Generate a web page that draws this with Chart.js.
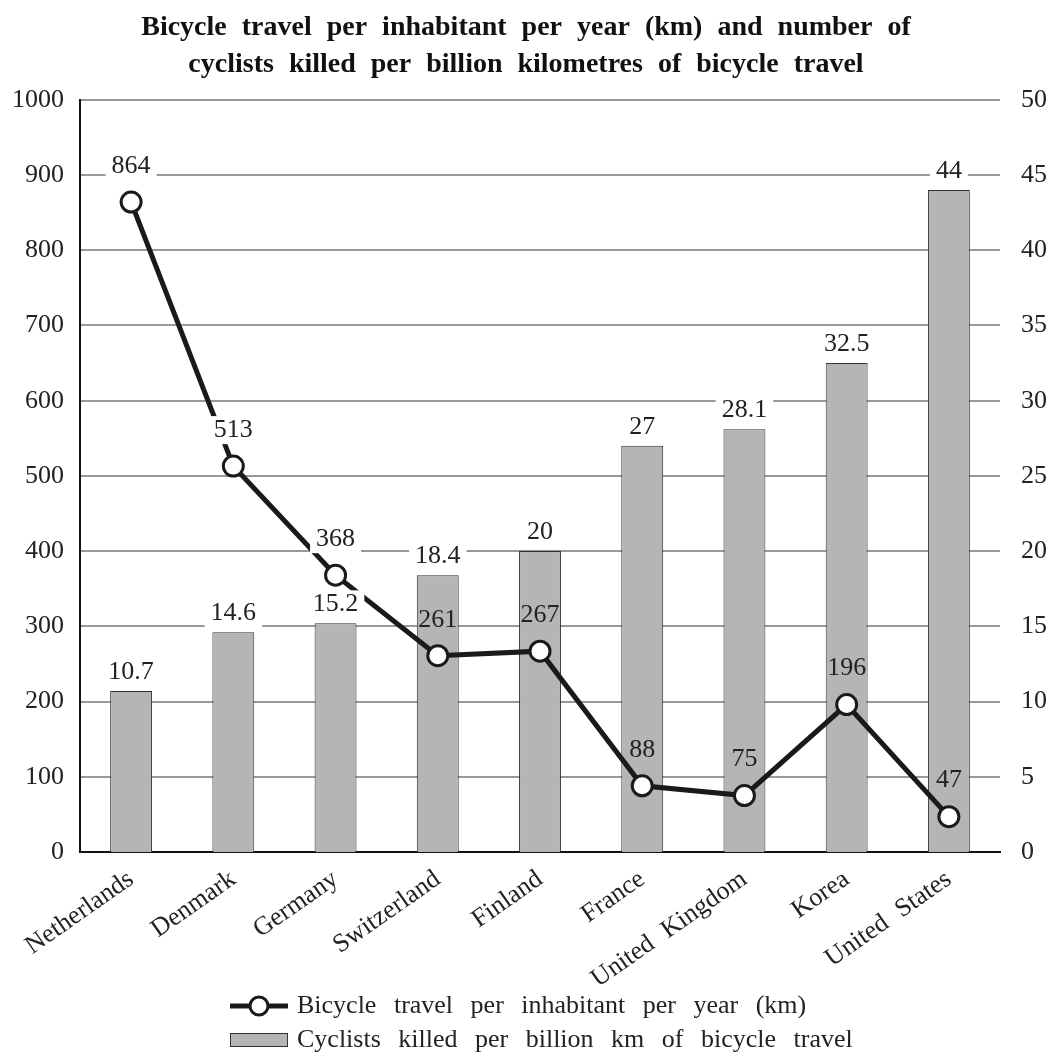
<!DOCTYPE html>
<html>
<head>
<meta charset="utf-8">
<script src="https://cdn.jsdelivr.net/npm/chart.js@4/dist/chart.umd.min.js"></script>
<style>
  body { margin: 0; background: #fff; }
  #wrap { width: 1052px; height: 1056px; }
</style>
</head>
<body>
<div id="wrap"><canvas id="chart"></canvas></div>
<script>
const countries = ["Netherlands", "Denmark", "Germany", "Switzerland", "Finland", "France", "United Kingdom", "Korea", "United States"];
const travelKm = [864, 513, 368, 261, 267, 88, 75, 196, 47];
const killedPerBillionKm = [10.7, 14.6, 15.2, 18.4, 20, 27, 28.1, 32.5, 44];

const titleLines = [
    "Bicycle travel per inhabitant per year (km) and number of",
    "cyclists killed per billion kilometres of bicycle travel"
];
const lineLabel = "Bicycle travel per inhabitant per year (km)";
const barLabel = "Cyclists killed per billion km of bicycle travel";

const serif = "'Liberation Serif', 'DejaVu Serif', serif";
Chart.defaults.font.family = serif;
Chart.defaults.color = "#222";

// the original type has wide word gaps
const wideWords = {
    id: "wideWords",
    beforeDraw(chart) {
        chart.ctx.wordSpacing = "8px";
    }
};

// value labels above points and bars
const valueLabels = {
    id: "valueLabels",
    afterDatasetsDraw(chart) {
        const ctx = chart.ctx;
        const lineMeta = chart.getDatasetMeta(0);
        const barMeta = chart.getDatasetMeta(1);
        ctx.save();
        ctx.font = "26px " + serif;
        ctx.textAlign = "center";
        ctx.textBaseline = "middle";

        const drawLabel = (text, x, y, i) => {
            const bar = barMeta.data[i];
            const onBar = Math.abs(x - bar.x) < bar.width / 2 && y > bar.y;
            if (!onBar) {
                const w = ctx.measureText(text).width + 12;
                ctx.fillStyle = "#fff";
                ctx.fillRect(x - w / 2, y - 14, w, 28);
            }
            ctx.fillStyle = "#222";
            ctx.fillText(text, x, y);
        };

        barMeta.data.forEach((bar, i) => {
            drawLabel(String(killedPerBillionKm[i]), bar.x, bar.y - 19, i);
        });
        lineMeta.data.forEach((pt, i) => {
            drawLabel(String(travelKm[i]), pt.x, pt.y - 36, i);
        });
        ctx.restore();
    }
};

// two-row legend under the axis labels
const bottomLegend = {
    id: "bottomLegend",
    afterDraw(chart) {
        const ctx = chart.ctx;
        const x0 = 230;
        const y1 = 1006;
        const y2 = 1040;
        ctx.save();
        ctx.strokeStyle = "#1a1a1a";
        ctx.lineWidth = 5;
        ctx.beginPath();
        ctx.moveTo(x0, y1);
        ctx.lineTo(x0 + 58, y1);
        ctx.stroke();
        ctx.beginPath();
        ctx.arc(x0 + 29, y1, 9, 0, Math.PI * 2);
        ctx.fillStyle = "#fff";
        ctx.fill();
        ctx.lineWidth = 3;
        ctx.stroke();

        ctx.fillStyle = "#b5b5b5";
        ctx.fillRect(x0, y2 - 7, 58, 14);
        ctx.strokeStyle = "#333";
        ctx.lineWidth = 1;
        ctx.strokeRect(x0 + 0.5, y2 - 6.5, 57, 13);

        ctx.fillStyle = "#222";
        ctx.font = "26px " + serif;
        ctx.wordSpacing = "11px";
        ctx.textAlign = "left";
        ctx.textBaseline = "middle";
        ctx.fillText(lineLabel, x0 + 67, y1);
        ctx.fillText(barLabel, x0 + 67, y2);
        ctx.restore();
    }
};

new Chart(document.getElementById("chart"), {
    type: "bar",
    data: {
        labels: countries,
        datasets: [{
            type: "line",
            label: lineLabel,
            data: travelKm,
            yAxisID: "y",
            borderColor: "#1a1a1a",
            borderWidth: 5,
            tension: 0,
            pointRadius: 10,
            pointBorderWidth: 3,
            pointBackgroundColor: "#fff",
            pointBorderColor: "#1a1a1a",
            order: 0
        }, {
            type: "bar",
            label: barLabel,
            data: killedPerBillionKm,
            yAxisID: "y1",
            backgroundColor: "#b5b5b5",
            borderColor: "#333",
            borderWidth: 1,
            barPercentage: 0.41,
            categoryPercentage: 1,
            order: 1
        }]
    },
    options: {
        responsive: true,
        maintainAspectRatio: false,
        animation: false,
        layout: { padding: { top: 0, left: 0, right: 0, bottom: 70 } },
        plugins: {
            legend: { display: false },
            tooltip: { enabled: false },
            title: {
                display: true,
                text: titleLines,
                color: "#111",
                font: { size: 28, weight: "bold", lineHeight: 1.3 },
                padding: { top: 10, bottom: 17 }
            }
        },
        scales: {
            x: {
                grid: { display: false },
                border: { color: "#111", width: 2 },
                ticks: {
                    font: { size: 26 },
                    color: "#222",
                    minRotation: 35,
                    maxRotation: 35,
                    autoSkip: false,
                    padding: 4
                },
                afterFit(scale) { scale.height = 134; }
            },
            y: {
                position: "left",
                min: 0,
                max: 1000,
                ticks: {
                    stepSize: 100,
                    font: { size: 26 },
                    color: "#222",
                    padding: 16,
                    callback: v => String(v)
                },
                grid: { color: "#999", lineWidth: 2, drawTicks: false },
                border: { color: "#111", width: 2 },
                afterFit(scale) { scale.width = 80; }
            },
            y1: {
                position: "right",
                min: 0,
                max: 50,
                ticks: { stepSize: 5, font: { size: 26 }, color: "#222", padding: 21 },
                grid: { display: false, drawTicks: false },
                border: { display: false },
                afterFit(scale) { scale.width = 52; }
            }
        }
    },
    plugins: [wideWords, valueLabels, bottomLegend]
});
</script>
</body>
</html>
